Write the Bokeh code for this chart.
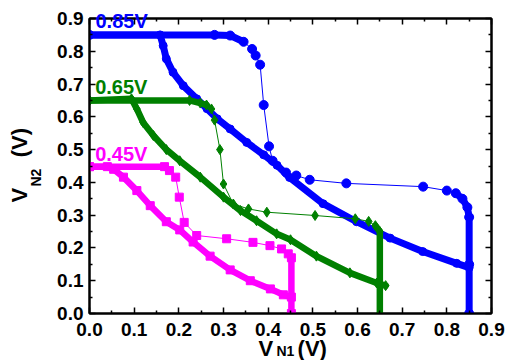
from bokeh.plotting import figure
from bokeh.models import (Range1d, LinearAxis, FixedTicker, NumeralTickFormatter, Label,
                          CustomJSTickFormatter, Title)
from bokeh.embed import file_html
from bokeh.resources import INLINE

# ---------------- data ----------------
major_ticks = [0.0, 0.1, 0.2, 0.3, 0.4, 0.5, 0.6, 0.7, 0.8, 0.9]
minor_ticks = [0.05, 0.15, 0.25, 0.35, 0.45, 0.55, 0.65, 0.75, 0.85]

supply_labels = ["0.85V", "0.65V", "0.45V"]

# VDD = 0.85 V
blue_a_x = [0.000, 0.280, 0.315, 0.345, 0.364, 0.372, 0.382, 0.390, 0.402, 0.410, 0.440,
            0.463, 0.493, 0.575, 0.747, 0.800, 0.820, 0.835, 0.846, 0.850, 0.850, 0.850]
blue_a_y = [0.850, 0.850, 0.848, 0.829, 0.807, 0.787, 0.759, 0.636, 0.510, 0.466, 0.430,
            0.421, 0.408, 0.397, 0.387, 0.375, 0.367, 0.350, 0.324, 0.294, 0.150, 0.000]
blue_b_x = [0.000, 0.158, 0.165, 0.172, 0.187, 0.210, 0.240, 0.263, 0.286, 0.315, 0.352,
            0.390, 0.420, 0.448, 0.523, 0.598, 0.673, 0.746, 0.822, 0.850]
blue_b_y = [0.850, 0.850, 0.817, 0.777, 0.736, 0.695, 0.655, 0.625, 0.594, 0.563, 0.522,
            0.484, 0.452, 0.415, 0.335, 0.280, 0.230, 0.189, 0.153, 0.140]

# VDD = 0.65 V
green_a_x = [0.000, 0.224, 0.248, 0.262, 0.273, 0.280, 0.292, 0.300, 0.322, 0.356, 0.397,
             0.505, 0.595, 0.625, 0.640, 0.650, 0.650]
green_a_y = [0.650, 0.650, 0.642, 0.636, 0.624, 0.590, 0.500, 0.395, 0.334, 0.319, 0.309,
             0.299, 0.289, 0.281, 0.268, 0.250, 0.000]
green_b_x = [0.000, 0.094, 0.106, 0.120, 0.143, 0.172, 0.202, 0.248, 0.300, 0.338, 0.374,
             0.419, 0.450, 0.508, 0.583, 0.643, 0.663]
green_b_y = [0.650, 0.655, 0.624, 0.583, 0.543, 0.500, 0.466, 0.416, 0.355, 0.314, 0.283,
             0.243, 0.225, 0.175, 0.124, 0.093, 0.085]

# VDD = 0.45 V
magenta_a_x = [0.000, 0.168, 0.179, 0.193, 0.201, 0.212, 0.240, 0.307, 0.366, 0.404, 0.430,
               0.445, 0.452, 0.452]
magenta_a_y = [0.448, 0.448, 0.436, 0.416, 0.355, 0.278, 0.238, 0.228, 0.217, 0.207, 0.197,
               0.182, 0.170, 0.000]
magenta_b_x = [0.000, 0.040, 0.054, 0.076, 0.106, 0.136, 0.172, 0.202, 0.232, 0.270, 0.315,
               0.360, 0.405, 0.434, 0.452]
magenta_b_y = [0.448, 0.448, 0.440, 0.416, 0.375, 0.329, 0.280, 0.255, 0.218, 0.175, 0.133,
               0.100, 0.075, 0.057, 0.050]

# ---------------- figure ----------------
FONT = "Liberation Sans"
NB = "\u00a0"

p = figure(width=508, height=360, output_backend="svg", toolbar_location=None,
           x_range=Range1d(0, 0.9), y_range=Range1d(0, 0.9),
           min_border_left=89, min_border_right=17, min_border_top=18, min_border_bottom=47)
p.grid.visible = False
p.background_fill_color = "white"
p.border_fill_color = "white"
p.outline_line_color = "black"
p.outline_line_width = 2

p.add_layout(LinearAxis(), "above")
p.add_layout(LinearAxis(), "right")


def style_axis(ax, show_labels):
    ax.ticker = FixedTicker(ticks=major_ticks, minor_ticks=minor_ticks)
    ax.axis_line_width = 2
    ax.axis_line_color = "black"
    ax.major_tick_in = 6
    ax.major_tick_out = 0
    ax.minor_tick_in = 3
    ax.minor_tick_out = 0
    ax.major_tick_line_width = 1.5
    ax.minor_tick_line_width = 1.5
    ax.major_tick_line_color = "black"
    ax.minor_tick_line_color = "black"
    ax.major_label_text_font = FONT
    ax.major_label_text_font_style = "bold"
    ax.major_label_text_color = "black"
    ax.major_label_text_font_size = "19px"
    if show_labels:
        ax.formatter = NumeralTickFormatter(format="0.0")
    else:
        ax.formatter = CustomJSTickFormatter(code="return '';")
        ax.major_label_standoff = 0


for ax in p.below:
    style_axis(ax, True)
    ax.major_label_standoff = 9
for ax in p.left:
    style_axis(ax, True)
    ax.major_label_standoff = 6
for ax in p.above + p.right:
    style_axis(ax, False)


def draw_curve(xs, ys, color, marker, msize, band, dense_ranges):
    p.line(xs, ys, line_color=color, line_width=1)
    for a, b in dense_ranges:
        p.line(xs[a:b], ys[a:b], line_color=color, line_width=band,
               line_cap="round", line_join="round")
    p.scatter(xs, ys, marker=marker, size=msize, fill_color=color, line_color=color)


BLUE = "#0000FF"
GREEN = "#008000"
MAG = "#FF00FF"

draw_curve(blue_b_x, blue_b_y, BLUE, "circle", 8, 7, [(0, len(blue_b_x))])
draw_curve(blue_a_x, blue_a_y, BLUE, "circle", 9, 7, [(0, 4), (16, len(blue_a_x))])
draw_curve(green_b_x, green_b_y, GREEN, "diamond", 10, 6.5, [(0, len(green_b_x))])
draw_curve(green_a_x, green_a_y, GREEN, "diamond", 10, 6.5, [(0, 4), (14, len(green_a_x))])
draw_curve(magenta_b_x, magenta_b_y, MAG, "square", 8, 6.5, [(0, len(magenta_b_x))])
draw_curve(magenta_a_x, magenta_a_y, MAG, "square", 8, 6.5, [(0, 3), (11, len(magenta_a_x))])


def side_title(text, place, size, offset, standoff, valign, color="black"):
    p.add_layout(Title(text=text, align="left", offset=offset, standoff=standoff,
                       vertical_align=valign, text_font=FONT, text_font_size=size,
                       text_font_style="bold", text_color=color), place)


# supply voltage labels: the top one pokes above the frame, so it sits in the top panel
side_title(supply_labels[0], "above", "20px", 6, -26, "bottom", BLUE)
for txt, col, yy in zip(supply_labels[1:], [GREEN, MAG], [0.691, 0.486]):
    p.add_layout(Label(x=0.0126, y=yy, text=txt, text_color=col, text_font=FONT,
                       text_font_style="bold", text_font_size="20px",
                       text_align="left", text_baseline="alphabetic"))

# axis titles with subscripts (side-panel titles, so they are not clipped)
side_title("V" + NB * 4 + "(V)", "below", "22px", 169, -5, "top")
side_title("N1", "below", "14px", 187, -35, "top")

side_title("N2", "left", "14px", 127, 18, "top")
side_title("V" + NB * 5 + "(V)", "left", "22px", 111, -26, "bottom")

open("out.html", "w").write(file_html(p, INLINE))
